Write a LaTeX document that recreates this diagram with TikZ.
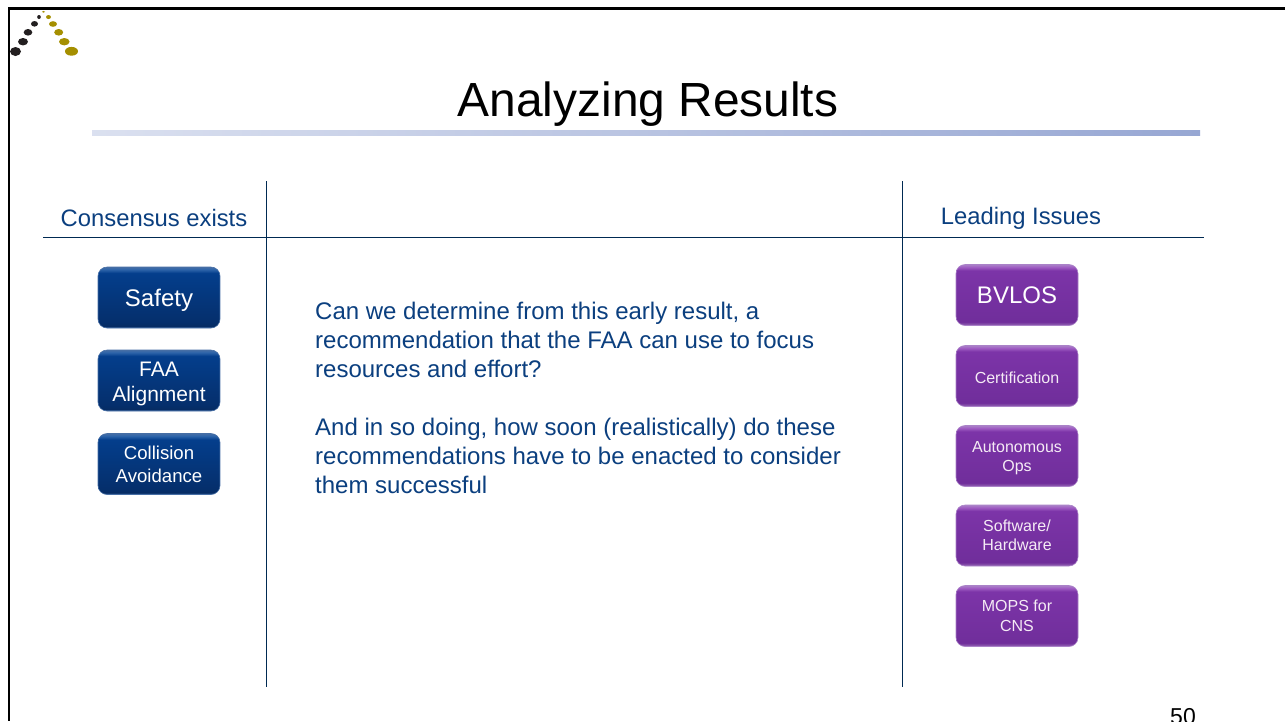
\documentclass[tikz,border=0pt]{standalone}
\usepackage{fontspec}
\setmainfont{Liberation Sans}
\definecolor{ink}{HTML}{0B3F7F}
\definecolor{rulec}{HTML}{002A52}
\definecolor{gold}{HTML}{A58F00}
\definecolor{darkdot}{HTML}{231F20}
\definecolor{barc}{HTML}{97A7D3}
\definecolor{bA}{RGB}{6,44,100}
\definecolor{bB}{RGB}{5,47,108}
\definecolor{bC}{RGB}{4,62,140}
\definecolor{bD}{RGB}{45,100,170}
\definecolor{bE}{RGB}{70,110,165}
\definecolor{pA}{RGB}{150,105,180}
\definecolor{pB}{RGB}{112,46,155}
\definecolor{pC}{RGB}{124,52,168}
\definecolor{pD}{RGB}{160,95,195}
\definecolor{pE}{RGB}{170,130,200}
\pgfdeclareverticalshading{bluegrad}{100bp}{
  color(0bp)=(bE);
  color(25bp)=(bE);
  color(26.5bp)=(bA);
  color(30bp)=(bB);
  color(70bp)=(bC);
  color(73bp)=(bD);
  color(75bp)=(bE);
  color(100bp)=(bE)}
\pgfdeclareverticalshading{purpgrad}{100bp}{
  color(0bp)=(pA);
  color(25bp)=(pA);
  color(28bp)=(pB);
  color(70bp)=(pC);
  color(73bp)=(pD);
  color(75bp)=(pE);
  color(100bp)=(pE)}
\tikzset{
  x=1pt,y=-1pt,
  btn/.style={rounded corners=9pt,minimum width=122pt,minimum height=61pt,inner sep=0pt,align=center,text=white,line width=.6pt},
  bluebtn/.style={btn,draw=bE,shading=bluegrad},
  purpbtn/.style={btn,draw=pE,shading=purpgrad},
  bigt/.style={font=\fontsize{24}{28}\selectfont},
  faat/.style={font=\fontsize{21}{25}\selectfont},
  small/.style={text=white!92!violet,font=\fontsize{16}{19.5}\selectfont},
  collt/.style={font=\fontsize{18.6}{23}\selectfont},
  divider/.style={draw=rulec,line width=1pt},
  head/.style={text=ink,font=\fontsize{23.8}{28}\selectfont,inner sep=0pt},
  dotd/.style={fill=darkdot,draw=none},
  dotg/.style={fill=gold,draw=none},
}
\begin{document}
\begin{tikzpicture}
\useasboundingbox (0,0) rectangle (1285,721);
\clip (0,0) rectangle (1285,721);
\fill[white] (0,0) rectangle (1285,721);
% frame
\draw[black,line width=2.6pt] (1285,8.6) -- (9,8.6) -- (9,721);
% logo
\fill[dotd] (15.5,51.5) ellipse (5.5 and 4.5);
\fill[dotd] (23,41.7) ellipse (5 and 3.7);
\fill[dotd] (28,32.3) ellipse (4.3 and 3.3);
\fill[dotd] (34.5,23.8) ellipse (3.5 and 2.8);
\fill[dotd] (39,17) ellipse (1.8 and 2);
\fill[dotg] (43.5,11.8) ellipse (1.5 and .9);
\fill[dotg] (48.5,17) ellipse (2.5 and 2);
\fill[dotg] (53,24) ellipse (4 and 2.8);
\fill[dotg] (58.7,32.3) ellipse (4.5 and 3.3);
\fill[dotg] (64.3,41.7) ellipse (5.3 and 3.7);
\fill[dotg] (71.5,51.3) ellipse (6.5 and 4.4);
% title
\node[inner sep=0pt,font=\fontsize{47.9}{52}\selectfont,text=black] (title) at (648,104) {Analyzing Results};
\shade[left color=barc!35!white,right color=barc] (92,130) rectangle (1200,135);
% dividers
\coordinate (hl) at (43,237); \coordinate (hr) at (1204,237);
\coordinate (v1t) at (266.5,181); \coordinate (v1b) at (266.5,687);
\coordinate (v2t) at (902.5,181); \coordinate (v2b) at (902.5,687);
\draw[divider] (hl) -- (hr);
\draw[divider] (v1t) -- (v1b);
\draw[divider] (v2t) -- (v2b);
% heads
\node[head] (h1) at (154,218) {Consensus exists};
\node[head] (h2) at (1021,218.5) {Leading Issues};
% left buttons
\node[bluebtn,bigt] (safety) at (159,297.5) {\raisebox{0pt}[17pt][0pt]{Safety}};
\node[bluebtn,faat] (faa) at (159,380.5) {\rule{0pt}{21pt}FAA\\Alignment};
\node[bluebtn,collt] (coll) at (159,464) {Collision\\Avoidance};
% right buttons
\node[purpbtn,bigt] (bvlos) at (1017,295) {BVLOS};
\node[purpbtn,small] (cert) at (1017,376) {\raisebox{0pt}[14pt][0pt]{Certification}};
\node[purpbtn,small] (auto) at (1017,456) {\rule{0pt}{15pt}Autonomous\\Ops};
\node[purpbtn,small] (soft) at (1017,535.5) {Software/\\Hardware};
\node[purpbtn,small] (mops) at (1017,616) {MOPS for\\CNS};
% body
\node[anchor=north west,inner sep=0pt,text=ink,align=left,font=\fontsize{24}{29}\selectfont] (body) at (315,302)
{Can we determine from this early result, a\\recommendation that the FAA can use to focus\\resources and effort?\\[29pt]And in so doing, how soon (realistically) do these\\recommendations have to be enacted to consider\\them successful};
% page number
\node[inner sep=0pt,text=black,font=\fontsize{23}{26}\selectfont,anchor=base] (pg) at (1183,724) {50};
\end{tikzpicture}
\end{document}
